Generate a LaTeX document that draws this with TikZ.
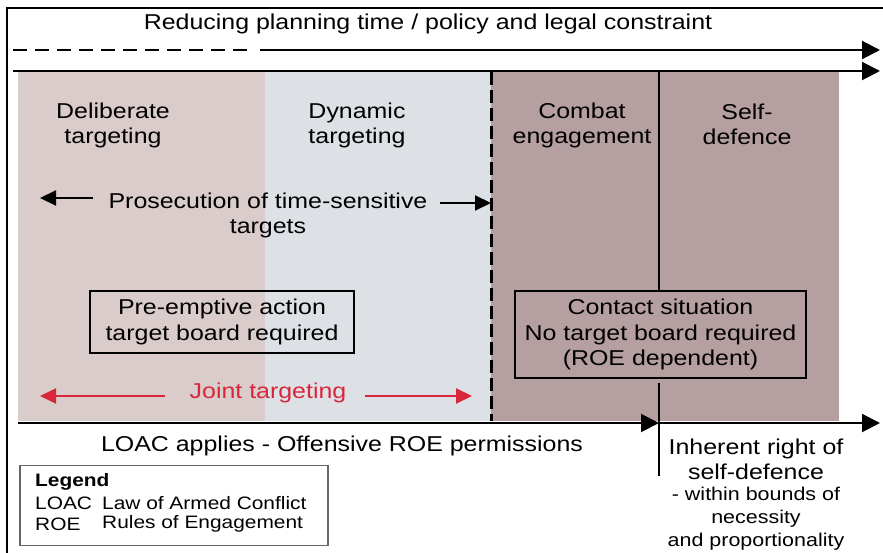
\documentclass[tikz,border=0pt]{standalone}
\usepackage{fontspec}
\setmainfont[FakeStretch=1.16]{Liberation Sans}
\usetikzlibrary{arrows.meta}
\definecolor{delib}{HTML}{D9CCCB}
\definecolor{dyn}{HTML}{DDE1E5}
\definecolor{combat}{HTML}{B59FA0}
\definecolor{jred}{HTML}{D9263A}
\begin{document}
\begin{tikzpicture}[x=1pt,y=-1pt,
  lbl/.style={align=center,font=\fontsize{21.5}{25}\selectfont,inner sep=0pt},
  small/.style={align=center,font=\fontsize{18.5}{23}\selectfont,inner sep=0pt},
  boxed/.style={draw,line width=1.4pt,align=center,font=\fontsize{21.5}{25.5}\selectfont},
  leg/.style={anchor=west,inner sep=0pt,font=\fontsize{18}{21}\selectfont},
  arr/.style={line width=2pt,-{Triangle[length=18pt,width=18pt]}},
  sarr/.style={line width=2pt,-{Triangle[length=16pt,width=15pt]}}]
\useasboundingbox (0,0) rectangle (883,553);
% frame
\draw[line width=1.6pt] (7,553) -- (7,8) -- (883,8);
% zones
\fill[delib] (18,72) rectangle (265,421);
\fill[dyn] (265,72) rectangle (491,421);
\fill[combat] (491,72) rectangle (839,421);
% top arrows
\node[lbl] (title) at (428,24) {Reducing planning time / policy and legal constraint};
\coordinate (d0) at (13,50);
\coordinate (d1) at (248,50);
\coordinate (s0) at (260,50);
\coordinate (s1) at (880,50);
\draw[line width=2pt,dash pattern=on 14pt off 8pt] (d0) -- (d1);
\draw[arr] (s0) -- (s1);
\coordinate (t0) at (13,71);
\coordinate (t1) at (880,71);
\draw[arr] (t0) -- (t1);
% dividers
\coordinate (v0) at (491,72);
\coordinate (v1) at (491,421);
\draw[line width=3pt,dash pattern=on 13pt off 5pt] (v0) -- (v1);
\coordinate (w0) at (659,72);
\coordinate (w1) at (659,291);
\draw[line width=1.8pt] (w0) -- (w1);
% headings
\node[lbl] (delibt) at (113,125) {Deliberate\\targeting};
\node[lbl] (dynt) at (357,125) {Dynamic\\targeting};
\node[lbl] (combt) at (582,125) {Combat\\engagement};
\node[lbl] (selft) at (747,124) {Self-\\defence};
% prosecution
\node[lbl] (pros) at (268,215) {Prosecution of time-sensitive\\targets};
\coordinate (pl0) at (93,198);
\coordinate (pl1) at (40,198);
\coordinate (pr0) at (440,203);
\coordinate (pr1) at (491,203);
\draw[sarr] (pl0) -- (pl1);
\draw[sarr] (pr0) -- (pr1);
% boxes
\node[boxed,minimum width=264pt,minimum height=62pt] (pre) at (222,322) {Pre-emptive action\\target board required};
\node[boxed,minimum width=291pt,minimum height=87pt] (contact) at (660.5,334.5) {Contact situation\\No target board required\\(ROE dependent)};
% joint targeting
\node[lbl,text=jred] (joint) at (268,393) {Joint targeting};
\coordinate (jl0) at (165,396);
\coordinate (jl1) at (40,396);
\coordinate (jr0) at (365,396);
\coordinate (jr1) at (472,396);
\draw[sarr,jred] (jl0) -- (jl1);
\draw[sarr,jred] (jr0) -- (jr1);
% bottom axis
\coordinate (b0) at (18,423);
\coordinate (bm) at (659,423);
\coordinate (b1) at (880,423);
\draw[arr] (b0) -- (bm);
\draw[arr] (bm) -- (b1);
\coordinate (x0) at (659,383);
\coordinate (x1) at (659,476);
\draw[line width=1.8pt] (x0) -- (x1);
\node[lbl] (loac) at (342,446) {LOAC applies - Offensive ROE permissions};
\node[lbl] (inh) at (756,459.5) {Inherent right of\\self-defence};
\node[small] (within) at (756,519) {- within bounds of\\necessity\\and proportionality};
% legend
\node[draw=black!60,line width=1.2pt,minimum width=308pt,minimum height=80pt] (legend) at (174,505.5) {};
\node[leg,font=\fontsize{18}{21}\selectfont\bfseries] (lg) at (35,482) {Legend};
\node[leg] (lg1) at (35,503) {LOAC};
\node[leg] (lg2) at (35,524) {ROE};
\node[leg] (lg1d) at (102,503) {Law of Armed Conflict};
\node[leg] (lg2d) at (102,524) {Rules of Engagement};
\end{tikzpicture}
\end{document}
